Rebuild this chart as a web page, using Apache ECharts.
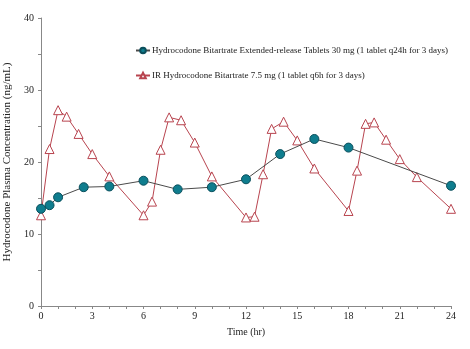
<!DOCTYPE html>
<html><head><meta charset="utf-8">
<script src="https://cdn.jsdelivr.net/npm/echarts@6/dist/echarts.min.js"></script>
<style>html,body{margin:0;padding:0;background:#fff}#c{width:470px;height:349px}</style>
</head><body><div id="c"></div>
<script>
var erName = 'Hydrocodone Bitartrate Extended-release Tablets 30 mg (1 tablet q24h for 3 days)';
var irName = 'IR Hydrocodone Bitartrate 7.5 mg (1 tablet q6h for 3 days)';
var erTimes = [0, 0.5, 1, 2.5, 4, 6, 8, 10, 12, 14, 16, 18, 24];
var erValues = [13.5, 14.0, 15.1, 16.5, 16.6, 17.4, 16.2, 16.5, 17.6, 21.1, 23.2, 22.0, 16.7];
var irTimes = [0, 0.5, 1, 1.5, 2.2, 3, 4, 6, 6.5, 7, 7.5, 8.2, 9, 10, 12, 12.5, 13, 13.5, 14.2, 15, 16, 18, 18.5, 19, 19.5, 20.2, 21, 22, 24];
var irValues = [12.6, 21.8, 27.2, 26.3, 23.9, 21.1, 18.0, 12.6, 14.5, 21.7, 26.2, 25.8, 22.7, 18.0, 12.3, 12.4, 18.3, 24.6, 25.6, 23.0, 19.1, 13.2, 18.8, 25.3, 25.5, 23.1, 20.4, 17.9, 13.5];
var xTickLabels = [0, 3, 6, 9, 12, 15, 18, 21, 24];
var yTickLabels = [0, 10, 20, 30, 40];

function pairs(xs, ys){ return xs.map(function(x,i){ return [x, ys[i]]; }); }
var font = '"Liberation Serif", "DejaVu Serif", serif';
var chart = echarts.init(document.getElementById('c'), null, {renderer:'canvas'});
chart.setOption({
  animation: false,
  textStyle: {fontFamily: font},
  grid: {left: 41, right: 19, top: 18, bottom: 43, containLabel: false, outerBoundsMode: 'none'},
  legend: {
    orient: 'vertical', left: 130, top: 41, itemGap: 16,
    itemWidth: 14, itemHeight: 7,
    textStyle: {fontFamily: font, fontSize: 9, color: '#222', padding: [0,0,0,-3]},
    data: [{name: erName}, {name: irName}]
  },
  xAxis: {
    type: 'value', min: 0, max: 24, interval: 1,
    name: 'Time (hr)', nameLocation: 'middle', nameGap: 21,
    nameTextStyle: {fontFamily: font, fontSize: 10, color: '#222'},
    axisLine: {lineStyle: {color: '#888'}},
    axisTick: {length: 3, lineStyle: {color: '#888'}},
    axisLabel: {fontFamily: font, fontSize: 10, color: '#222', margin: 5,
      formatter: function(v){ return xTickLabels.indexOf(v) >= 0 ? String(v) : ''; }},
    splitLine: {show: false}
  },
  yAxis: {
    type: 'value', min: 0, max: 40, interval: 5,
    name: 'Hydrocodone Plasma Concentration (ng/mL)', nameLocation: 'middle', nameGap: 3,
    nameTextStyle: {fontFamily: font, fontSize: 11, color: '#222'},
    axisLine: {show: true, lineStyle: {color: '#888'}},
    axisTick: {show: true, length: 3, lineStyle: {color: '#888'}},
    axisLabel: {fontFamily: font, fontSize: 10, color: '#222', margin: 7,
      formatter: function(v){ return yTickLabels.indexOf(v) >= 0 ? String(v) : ''; }},
    splitLine: {show: false}
  },
  series: [
    {
      name: erName, type: 'line', data: pairs(erTimes, erValues),
      symbol: 'circle', symbolSize: 9,
      lineStyle: {color: '#4a4a4a', width: 1},
      itemStyle: {color: '#0f7d8e', borderColor: '#0b4f5c', borderWidth: 1},
      z: 3
    },
    {
      name: irName, type: 'line', data: pairs(irTimes, irValues),
      symbol: 'triangle', symbolSize: 9,
      lineStyle: {color: '#b8444f', width: 1},
      itemStyle: {color: '#ffffff', borderColor: '#b8444f', borderWidth: 1},
      z: 2
    }
  ]
});
</script></body></html>
